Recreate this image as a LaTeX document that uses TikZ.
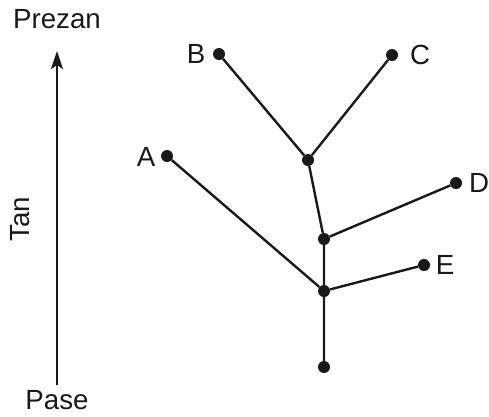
\documentclass[tikz,border=0pt]{standalone}
\usepackage{fontspec}
\setmainfont{Liberation Sans}
\usetikzlibrary{arrows.meta}
\begin{document}
\begin{tikzpicture}[x=1pt,y=-1pt,
  dot/.style={circle,fill=black!90,inner sep=0pt,minimum size=12pt},
  branch/.style={line width=2.4pt,black!90},
  lbl/.style={font=\fontsize{27.7}{30}\selectfont,text=black!90,inner sep=0pt},
  axis/.style={line width=2.4pt,black!90,-{Stealth[length=18pt,width=12pt,inset=4pt]}}]
\useasboundingbox (0,0) rectangle (489,416);
\node[dot] (r) at (324,367) {};
\node[dot] (n1) at (324,291) {};
\node[dot] (n2) at (324,239) {};
\node[dot] (n3) at (308,160) {};
\node[dot] (e) at (424,265) {};
\node[dot] (d) at (456,183) {};
\node[dot] (b) at (219,54) {};
\node[dot] (c) at (392,55) {};
\node[dot] (a) at (167,156) {};
\draw[branch] (r) -- (n1) -- (n2) -- (n3) -- (b);
\draw[branch] (n3) -- (c);
\draw[branch] (n2) -- (d);
\draw[branch] (n1) -- (e);
\draw[branch] (n1) -- (a);
\node[lbl] (lb) at (196,54) {B};
\node[lbl] (lc) at (420,55) {C};
\node[lbl] (la) at (146,157) {A};
\node[lbl] (ld) at (479,183) {D};
\node[lbl] (le) at (445,265) {E};
\coordinate (ax0) at (57,385);
\coordinate (ax1) at (57,51);
\draw[axis] (ax0) -- (ax1);
\node[lbl] (top) at (57,19) {Prezan};
\node[lbl] (bot) at (57,400) {Pase};
\node[lbl,rotate=90] (tan) at (20,219) {Tan};
\end{tikzpicture}
\end{document}
